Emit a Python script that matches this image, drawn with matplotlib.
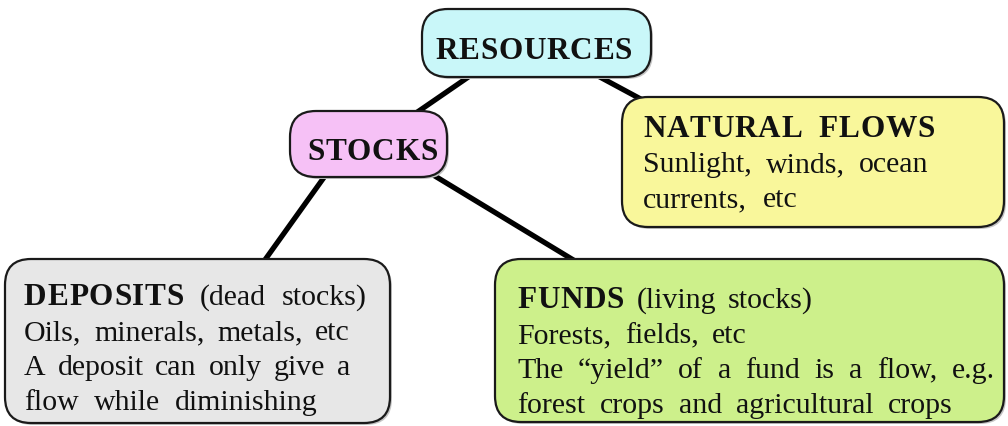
import matplotlib
matplotlib.use("Agg")
import matplotlib.pyplot as plt
from matplotlib.patches import FancyBboxPatch

# texts of the diagram, one list per box (word, bold)
resources_lines = [[("RESOURCES", True)]]
stocks_lines = [[("STOCKS", True)]]
flows_lines = [
    [("NATURAL", True), ("FLOWS", True)],
    [("Sunlight,", False), ("winds,", False), ("ocean", False)],
    [("currents,", False), ("etc", False)],
]
deposits_lines = [
    [("DEPOSITS", True), ("(dead", False), ("stocks)", False)],
    [("Oils,", False), ("minerals,", False), ("metals,", False), ("etc", False)],
    [("A", False), ("deposit", False), ("can", False), ("only", False), ("give", False), ("a", False)],
    [("flow", False), ("while", False), ("diminishing", False)],
]
funds_lines = [
    [("FUNDS", True), ("(living", False), ("stocks)", False)],
    [("Forests,", False), ("fields,", False), ("etc", False)],
    [("The", False), ("\u201cyield\u201d", False), ("of", False), ("a", False), ("fund", False),
     ("is", False), ("a", False), ("flow,", False), ("e.g.", False)],
    [("forest", False), ("crops", False), ("and", False), ("agricultural", False), ("crops", False)],
]

W, H = 1008, 427
fig = plt.figure(figsize=(W / 100, H / 100), dpi=100)
ax = fig.add_axes([0, 0, 1, 1])
ax.set_xlim(0, W)
ax.set_ylim(H, 0)
ax.axis("off")
renderer = fig.canvas.get_renderer()

FONT = "Liberation Serif"
BODY = 21.5
HEAD = 22.5
TRACK = 0.8


def make_word(word, bold):
    # bold words are letter spaced, so draw them char by char
    pieces = []
    x = 0
    chars = list(word) if bold else [word]
    for c in chars:
        t = ax.text(0, 0, c, fontsize=HEAD if bold else BODY, family=FONT,
                    fontweight="bold" if bold else "normal",
                    color="#111111", ha="left", va="baseline", zorder=5)
        w = t.get_window_extent(renderer).width
        pieces.append((t, x))
        x += w + (TRACK if bold else 0)
    if bold:
        x -= TRACK
    return pieces, x


def draw_line(words, x0, y, x1=None):
    made = [make_word(w, b) for w, b in words]
    total = sum(m[1] for m in made)
    if x1 is None or len(made) == 1:
        gap = 7
    else:
        gap = (x1 - x0 - total) / (len(made) - 1)
    x = x0
    for pieces, w in made:
        for t, off in pieces:
            t.set_position((x + off, y))
        x += w + gap


def box(x0, y0, x1, y1, color, r=24):
    ax.add_patch(FancyBboxPatch((x0 + 2, y0 + 2), x1 - x0, y1 - y0,
                                boxstyle=f"round,pad=0,rounding_size={r}",
                                fc="#c4c4c4", ec="none", zorder=2))
    ax.add_patch(FancyBboxPatch((x0, y0), x1 - x0, y1 - y0,
                                boxstyle=f"round,pad=0,rounding_size={r}",
                                fc=color, ec="#1a1a1a", lw=1.6, zorder=3))


# connectors
for (xa, ya), (xb, yb) in [((480, 70), (400, 125)), ((585, 70), (650, 105)),
                           ((330, 170), (262, 265)), ((420, 168), (580, 265))]:
    ax.plot([xa, xb], [ya, yb], color="black", lw=3.8, solid_capstyle="butt", zorder=1)

box(422, 10, 651, 78, "#c9f7f9", r=26)
box(290, 112, 447, 178, "#f6c1f6", r=26)
box(622, 98, 1004, 228, "#f9f79b", r=26)
box(5, 260, 390, 424, "#e7e7e7", r=26)
box(495, 260, 1004, 423, "#cdf08b", r=26)

draw_line(resources_lines[0], 435, 59)
draw_line(stocks_lines[0], 307, 160)

flows_ends = [935, 928, 798]
for i, words in enumerate(flows_lines):
    draw_line(words, 643, 137 + i * 35, flows_ends[i])

dep_ends = [367, 350, 350, 318]
for i, words in enumerate(deposits_lines):
    draw_line(words, 24, 305 + i * 35, dep_ends[i])

fund_ends = [813, 747, 995, 953]
for i, words in enumerate(funds_lines):
    draw_line(words, 517, 308 + i * 35, fund_ends[i])

fig.savefig("out.png", dpi=100, facecolor="white")
